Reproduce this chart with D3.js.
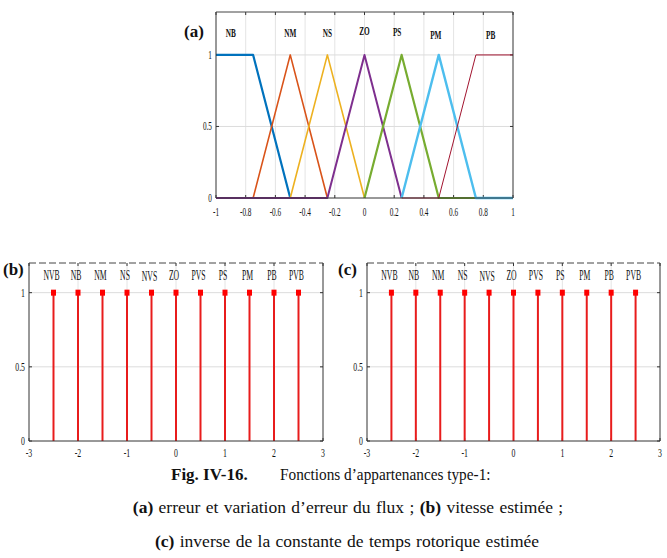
<!DOCTYPE html>
<html>
<head>
<meta charset="utf-8">
<script src="https://cdn.jsdelivr.net/npm/d3@7/dist/d3.min.js"></script>
<style>
  body { margin: 0; background: #fff; }
  text { font-family: "Liberation Serif", "Times New Roman", serif; fill: #111; }
</style>
</head>
<body>
<svg id="fig" width="667" height="558"></svg>
<script>
/* ── Data ─────────────────────────────────────────────────────────────── */
// (a) type-1 membership functions, breakpoints
const mfNames  = ['NB', 'NM', 'NS', 'ZO', 'PS', 'PM', 'PB'];
const mfColors = ['#0072BD', '#D95319', '#EDB120', '#7E2F8E', '#77AC30', '#4DBEEE', '#A2142F'];
const mfWidths = [2.2, 1.6, 1.6, 2, 2.2, 2.4, 1];
const mfPoints = [
  [[-1, 1], [-0.75, 1], [-0.5, 0]],
  [[-0.75, 0], [-0.5, 1], [-0.25, 0]],
  [[-0.5, 0], [-0.25, 1], [0, 0]],
  [[-1, 0], [-0.25, 0], [0, 1], [0.25, 0]],
  [[0, 0], [0.25, 1], [0.5, 0], [0.75, 0]],
  [[0.25, 0], [0.5, 1], [0.75, 0], [1, 0]],
  [[0.25, 0], [0.5, 0], [0.75, 1], [1, 1]]
];
const mfLabelX = [-0.9, -0.5, -0.25, 0, 0.22, 0.48, 0.85];
const mfLabelY = [1.15, 1.15, 1.15, 1.17, 1.16, 1.14, 1.14];
const aXTicks = [-1, -0.8, -0.6, -0.4, -0.2, 0, 0.2, 0.4, 0.6, 0.8, 1];
const aYTicks = [0, 0.5, 1];

// (b) and (c) singletons
const sgNames  = ['NVB', 'NB', 'NM', 'NS', 'NVS', 'ZO', 'PVS', 'PS', 'PM', 'PB', 'PVB'];
const sgX      = [-2.5, -2, -1.5, -1, -0.5, 0, 0.5, 1, 1.5, 2, 2.5];
const sgY      = [1, 1, 1, 1, 1, 1, 1, 1, 1, 1, 1];
const sgLabelY = [1.12, 1.12, 1.12, 1.12, 1.11, 1.12, 1.12, 1.12, 1.12, 1.12, 1.12];
const bXTicks = [-3, -2, -1, 0, 1, 2, 3];
const bYTicks = [0, 0.5, 1];

const captionLines = [
  'erreur et variation d\u2019erreur du flux ; ',
  'vitesse estim\u00e9e ;',
  'inverse de la constante de temps rotorique estim\u00e9e'
];

/* ── Helpers ──────────────────────────────────────────────────────────── */
const svg = d3.select('#fig');
const fmt = v => String(v);   // plain hyphen minus, as in the MATLAB export

// narrow serif text, like the squeezed MATLAB export
function ctext(g, x, y, str, anchor, size, sx) {
  return g.append('text')
    .attr('transform', `translate(${x},${y}) scale(${sx},1)`)
    .attr('text-anchor', anchor)
    .attr('font-size', size)
    .text(str);
}

function panel(box, xDom, yDom, xTicks, yTicks, tag) {
  const x = d3.scaleLinear().domain(xDom).range([box.l, box.r]);
  const y = d3.scaleLinear().domain(yDom).range([box.b, box.t]);
  const g = svg.append('g');

  // grid
  g.selectAll('.gx').data(xTicks.slice(1, -1)).join('line')
    .attr('x1', d => x(d)).attr('x2', d => x(d))
    .attr('y1', box.t).attr('y2', box.b)
    .attr('stroke', '#e4e4e4').attr('stroke-width', 1);
  g.selectAll('.gy').data(yTicks.slice(1)).join('line')
    .attr('x1', box.l).attr('x2', box.r)
    .attr('y1', d => y(d)).attr('y2', d => y(d))
    .attr('stroke', '#dcdcdc').attr('stroke-width', 1);

  // inner ticks on all four sides
  xTicks.forEach(v => {
    g.append('line').attr('x1', x(v)).attr('x2', x(v)).attr('y1', box.b).attr('y2', box.b - 3)
      .attr('stroke', '#333');
    g.append('line').attr('x1', x(v)).attr('x2', x(v)).attr('y1', box.t).attr('y2', box.t + 3)
      .attr('stroke', '#333');
    ctext(g, x(v), box.b + box.xl, fmt(v), 'middle', box.fs, box.sx);
  });
  yTicks.forEach(v => {
    g.append('line').attr('x1', box.l).attr('x2', box.l + 3).attr('y1', y(v)).attr('y2', y(v))
      .attr('stroke', '#333');
    g.append('line').attr('x1', box.r).attr('x2', box.r - 3).attr('y1', y(v)).attr('y2', y(v))
      .attr('stroke', '#333');
    ctext(g, box.l - 4, y(v) + 4, fmt(v), 'end', box.fs, box.sx);
  });

  // panel tag
  g.append('text').attr('x', box.tagX).attr('y', box.tagY)
    .attr('font-size', 17).attr('font-weight', 'bold').text(tag);

  return { x, y, g, box };
}

function frame(p, dashedTop) {
  const { g, box } = p;
  g.append('line').attr('x1', box.l).attr('x2', box.l).attr('y1', box.t).attr('y2', box.b).attr('stroke', '#333');
  g.append('line').attr('x1', box.r).attr('x2', box.r).attr('y1', box.t).attr('y2', box.b).attr('stroke', '#333');
  g.append('line').attr('x1', box.l).attr('x2', box.r).attr('y1', box.b).attr('y2', box.b).attr('stroke', '#333');
  g.append('line').attr('x1', box.l).attr('x2', box.r).attr('y1', box.t).attr('y2', box.t)
    .attr('stroke', '#444').attr('stroke-dasharray', dashedTop ? '7,3' : null);
}

/* ── (a) membership functions ─────────────────────────────────────────── */
const pa = panel({ l: 216, r: 513, t: 12, b: 198, xl: 18, fs: 12.5, sx: 0.58, tagX: 184, tagY: 37 },
  [-1, 1], [0, 1.3], aXTicks, aYTicks, '(a)');

const line = d3.line().x(d => pa.x(d[0])).y(d => pa.y(d[1]));
pa.g.selectAll('.mf').data(mfPoints).join('path')
  .attr('d', line)
  .attr('fill', 'none')
  .attr('stroke', (d, i) => mfColors[i])
  .attr('stroke-width', (d, i) => mfWidths[i])
  .attr('stroke-linejoin', 'round');

mfNames.forEach((n, i) => ctext(pa.g, pa.x(mfLabelX[i]), pa.y(mfLabelY[i]) + 4, n, 'middle', 13, 0.56)
  .attr('font-weight', 'bold'));
frame(pa, false);

/* ── (b) and (c) singletons ───────────────────────────────────────────── */
function stems(p) {
  p.g.selectAll('.stem').data(sgX).join('line')
    .attr('x1', d => p.x(d)).attr('x2', d => p.x(d))
    .attr('y1', p.y(0)).attr('y2', (d, i) => p.y(sgY[i]))
    .attr('stroke', '#e81c1c').attr('stroke-width', 2);
  p.g.selectAll('.mk').data(sgX).join('rect')
    .attr('x', d => p.x(d) - 2.5).attr('y', (d, i) => p.y(sgY[i]) - 3)
    .attr('width', 5).attr('height', 6)
    .attr('fill', '#f00');
  sgNames.forEach((n, i) => ctext(p.g, p.x(sgX[i]) - 2, p.y(sgLabelY[i]) + 5, n, 'middle', 14, 0.55));
  frame(p, true);
}

const pb = panel({ l: 29, r: 323, t: 263, b: 441, xl: 16, fs: 13, sx: 0.6, tagX: 3, tagY: 275 },
  [-3, 3], [0, 1.2], bXTicks, bYTicks, '(b)');
stems(pb);

const pc = panel({ l: 367, r: 660, t: 263, b: 441, xl: 16, fs: 13, sx: 0.6, tagX: 338, tagY: 275 },
  [-3, 3], [0, 1.2], bXTicks, bYTicks, '(c)');
stems(pc);

/* ── Caption ──────────────────────────────────────────────────────────── */
const cap = svg.append('g');
cap.append('text').attr('x', 171).attr('y', 480).attr('font-size', 17).attr('font-weight', 'bold').text('Fig. IV-16.');
ctext(cap, 280, 480, 'Fonctions d\u2019appartenances type-1:', 'start', 17, 0.9);

const l2 = cap.append('text').attr('x', 348).attr('y', 513).attr('text-anchor', 'middle')
  .attr('font-size', 17.5).attr('word-spacing', 1);
l2.append('tspan').attr('font-weight', 'bold').text('(a)');
l2.append('tspan').text(' ' + captionLines[0]);
l2.append('tspan').attr('font-weight', 'bold').text('(b)');
l2.append('tspan').text(' ' + captionLines[1]);

const l3 = cap.append('text').attr('x', 347).attr('y', 547).attr('text-anchor', 'middle')
  .attr('font-size', 17.5).attr('word-spacing', 1);
l3.append('tspan').attr('font-weight', 'bold').text('(c)');
l3.append('tspan').text(' ' + captionLines[2]);
</script>
</body>
</html>
